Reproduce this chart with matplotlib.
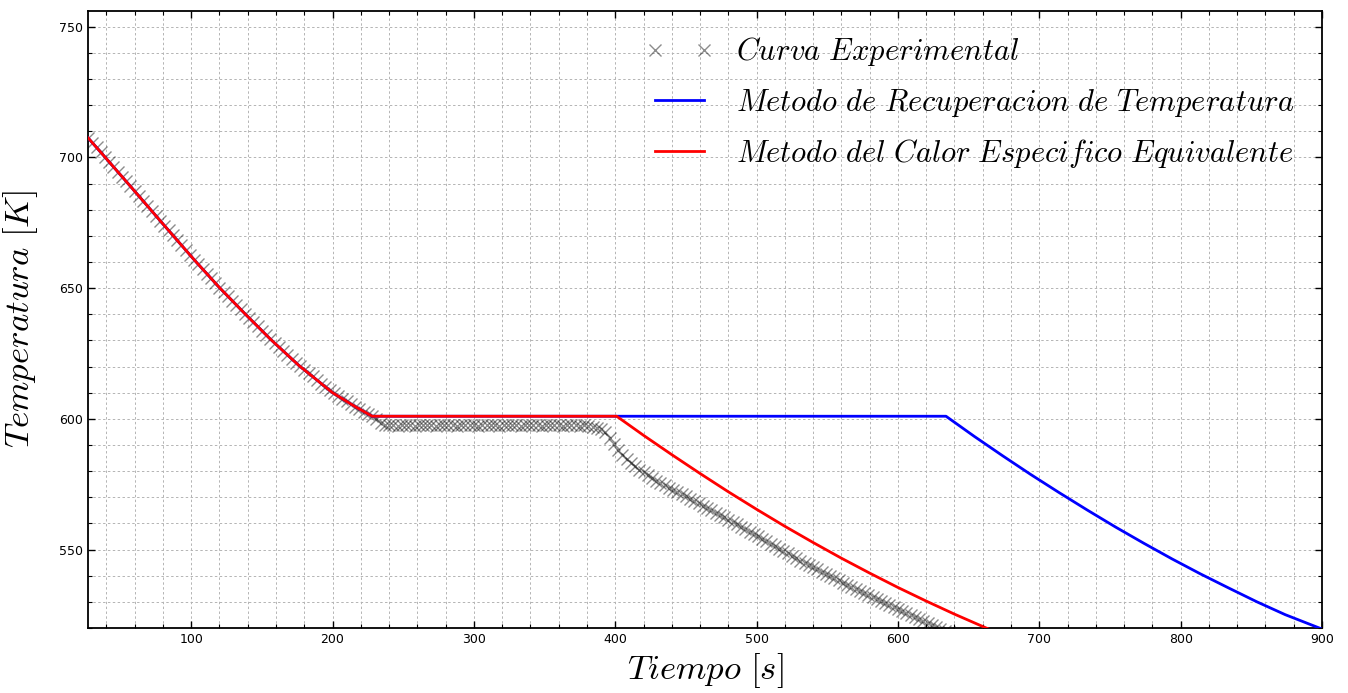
import numpy as np
import matplotlib
matplotlib.use("Agg")
import matplotlib.pyplot as plt
from matplotlib.ticker import MultipleLocator

plt.rcParams['mathtext.fontset'] = 'cm'

# ---------------- data ----------------
# Experimental curve, sampled every 3 s starting at t = 27 s
exp_t0 = 27
exp_dt = 3
exp_T = [
    707.5, 705.6, 703.8, 701.9, 700.1, 698.3, 696.4, 694.5, 692.7, 690.8,
    689.0, 687.1, 685.2, 683.3, 681.5, 679.6, 677.7, 675.8, 673.9, 672.1,
    670.2, 668.3, 666.5, 664.6, 662.8, 660.9, 659.1, 657.3, 655.5, 653.8,
    652.0, 650.2, 648.5, 646.9, 645.2, 643.5, 641.9, 640.2, 638.6, 637.0,
    635.4, 633.7, 632.1, 630.5, 629.0, 627.5, 626.0, 624.5, 623.0, 621.5,
    620.1, 618.7, 617.4, 616.2, 614.8, 613.5, 612.2, 610.9, 609.7, 608.7,
    607.7, 606.7, 605.7, 604.7, 603.8, 602.8, 601.9, 601.0, 599.9, 598.6,
    597.8, 597.5, 597.6, 597.4, 597.5, 597.6, 597.5, 597.4, 597.5, 597.6,
    597.5, 597.5, 597.4, 597.6, 597.5, 597.5, 597.6, 597.4, 597.5, 597.5,
    597.6, 597.5, 597.4, 597.5, 597.5, 597.6, 597.5, 597.4, 597.5, 597.6,
    597.5, 597.5, 597.4, 597.5, 597.6, 597.5, 597.5, 597.4, 597.5, 597.6,
    597.5, 597.5, 597.4, 597.5, 597.6, 597.5, 597.4, 597.5, 597.3, 597.0,
    596.6, 596.2, 594.8, 592.6, 590.2, 588.0, 586.1, 584.5, 583.1, 581.8,
    580.6, 579.5, 578.4, 577.4, 576.4, 575.5, 574.6, 573.7, 572.9, 572.0,
    571.2, 570.4, 569.5, 568.6, 567.7, 566.8, 565.9, 565.0, 564.1, 563.2,
    562.3, 561.4, 560.5, 559.6, 558.7, 557.8, 556.9, 556.0, 555.1, 554.1,
    553.2, 552.3, 551.3, 550.4, 549.4, 548.5, 547.6, 546.7, 545.8, 545.0,
    544.1, 543.2, 542.4, 541.5, 540.7, 539.8, 539.0, 538.2, 537.4, 536.6,
    535.8, 535.0, 534.2, 533.4, 532.6, 531.8, 531.0, 530.2, 529.5, 528.7,
    528.0, 527.2, 526.5, 525.7, 525.0, 524.2, 523.5, 522.7, 522.0, 521.2,
    520.5, 519.8, 519.0, 518.3,
]
exp_t = exp_t0 + exp_dt * np.arange(len(exp_T))

# Metodo de Recuperacion de Temperatura (blue)
rec_t = [27, 40, 55, 71, 87, 103, 120, 138, 156, 176, 200, 215, 228,
         634, 654, 674, 694, 714, 734, 754, 774, 794, 814, 834, 854, 874, 900]
rec_T = [707.5, 699.5, 690.2, 680.2, 670.2, 660.3, 650.2, 640.2, 630.5, 620.5,
         610.0, 605.0, 601.0,
         601.0, 593.3, 585.9, 578.7, 571.8, 565.1, 558.6, 552.4, 546.4, 540.7,
         535.3, 530.0, 525.1, 519.6]

# Metodo del Calor Especifico Equivalente (red)
ceq_t = [27, 40, 55, 71, 87, 103, 120, 138, 156, 176, 200, 215, 228,
         401, 420, 440, 460, 480, 500, 520, 540, 560, 580, 600, 620, 640, 662, 670]
ceq_T = [707.5, 699.5, 690.2, 680.2, 670.2, 660.3, 650.2, 640.2, 630.5, 620.5,
         610.0, 605.0, 601.0,
         601.0, 593.7, 586.3, 579.1, 572.1, 565.4, 558.9, 552.7, 546.7, 541.0,
         535.5, 530.3, 525.3, 520.1, 518.3]

labels = [r'$Curva\ Experimental$',
          r'$Metodo\ de\ Recuperacion\ de\ Temperatura$',
          r'$Metodo\ del\ Calor\ Especifico\ Equivalente$']

x_ticks = [100, 200, 300, 400, 500, 600, 700, 800, 900]
y_ticks = [550, 600, 650, 700, 750]

# ---------------- figure ----------------
fig = plt.figure(figsize=(13.48, 6.93), dpi=100)
ax = fig.add_axes([0.0653, 0.0938, 0.9807 - 0.0653, 0.9841 - 0.0938])

ax.plot(exp_t, exp_T, linestyle='none', marker='x', color='k', alpha=0.45,
        markersize=9, markeredgewidth=1.0, label=labels[0], zorder=2)
ax.plot(rec_t, rec_T, color='#0000ff', lw=2.0, label=labels[1], zorder=3)
ax.plot(ceq_t, ceq_T, color='#ff0000', lw=2.0, label=labels[2], zorder=4)

ax.set_xlim(27, 900)
ax.set_ylim(520, 756)
ax.set_xticks(x_ticks)
ax.set_yticks(y_ticks)
ax.xaxis.set_minor_locator(MultipleLocator(20))
ax.yaxis.set_minor_locator(MultipleLocator(10))

ax.grid(True, which='both', color='#b4b4b4', linestyle=(0, (2.5, 2.5)), lw=0.7)
ax.set_axisbelow(True)

ax.tick_params(which='both', direction='in', top=True, right=True, labelsize=9)
ax.tick_params(which='major', length=5, width=1)
ax.tick_params(which='minor', length=3, width=0.8)
for s in ax.spines.values():
    s.set_linewidth(1.3)
    s.set_color('k')

ax.set_xlabel(r'$Tiempo\ [s]$', fontsize=25, labelpad=4)
ax.set_ylabel(r'$Temperatura\ [K]$', fontsize=25, labelpad=14)

ax.legend(loc='upper right', bbox_to_anchor=(1.0, 1.005), frameon=False,
          fontsize=22, numpoints=2, handlelength=2.2, handletextpad=0.75,
          labelspacing=0.6)

fig.savefig('out.png', dpi=100)
